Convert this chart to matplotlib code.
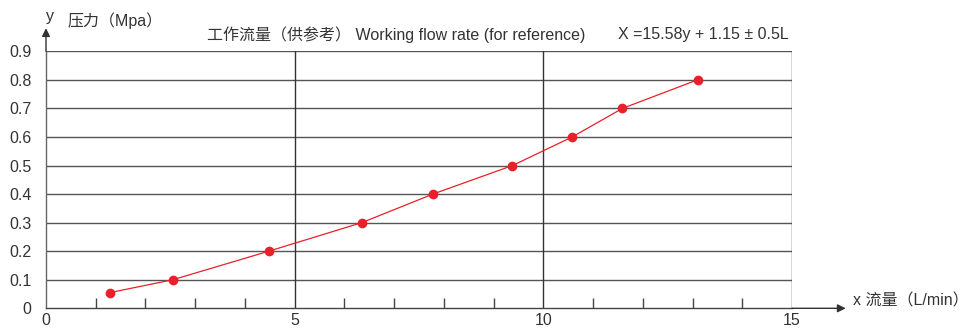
import matplotlib
matplotlib.use("Agg")
import matplotlib.pyplot as plt
from matplotlib.ticker import MultipleLocator

plt.rcParams['font.family'] = ['Liberation Sans', 'Noto Sans CJK SC', 'DejaVu Sans']

# flow (L/min) vs pressure (MPa)
flow = [1.29, 2.55, 4.48, 6.35, 7.78, 9.38, 10.58, 11.59, 13.10]
pressure = [0.055, 0.1, 0.2, 0.3, 0.4, 0.5, 0.6, 0.7, 0.8]
x_ticks = [0, 5, 10, 15]
y_ticks = [0, 0.1, 0.2, 0.3, 0.4, 0.5, 0.6, 0.7, 0.8, 0.9]
y_labels = ['0', '0.1', '0.2', '0.3', '0.4', '0.5', '0.6', '0.7', '0.8', '0.9']

W, H = 968, 329
fig = plt.figure(figsize=(W / 100, H / 100), dpi=100)
ax = fig.add_axes([46 / W, 1 - 308.3 / H, (792 - 46) / W, (308.3 - 51.3) / H])

ax.set_xlim(0, 15)
ax.set_ylim(0, 0.9)

grid_col = '#555555'
for yv in y_ticks[1:]:
    ax.axhline(yv, color=grid_col, lw=1.0, zorder=1)
for xv in x_ticks[1:]:
    ax.axvline(xv, color='#333333', lw=1.0, zorder=1)

for s in ['top', 'right']:
    ax.spines[s].set_visible(False)
ax.spines['left'].set_color('#666666')
ax.spines['bottom'].set_color('#444444')
for s in ['left', 'bottom']:
    ax.spines[s].set_linewidth(1.0)

ax.set_xticks(x_ticks)
ax.set_yticks(y_ticks)
ax.set_yticklabels(y_labels)
ax.xaxis.set_minor_locator(MultipleLocator(1))
ax.tick_params(axis='x', which='major', length=0, pad=3.5, labelsize=11.5, labelcolor='#333333')
ax.tick_params(axis='x', which='minor', direction='in', length=7, width=1.0, color='#444444')
ax.tick_params(axis='y', which='major', length=0, pad=10.5, labelsize=11.5, labelcolor='#333333')

ax.plot(flow, pressure, color='#e8202a', lw=0.9, marker='o', markersize=7,
        markeredgewidth=0, zorder=3, clip_on=False)

# axis arrows
ax.annotate('', xy=(1.072, 0), xytext=(1.0, 0), xycoords='axes fraction',
            arrowprops=dict(arrowstyle='-|>', color='#333333', lw=1.0, mutation_scale=12,
                            shrinkA=0, shrinkB=0), annotation_clip=False)
ax.annotate('', xy=(0, 1.09), xytext=(0, 1.0), xycoords='axes fraction',
            arrowprops=dict(arrowstyle='-|>', color='#333333', lw=1.0, mutation_scale=12,
                            shrinkA=0, shrinkB=0), annotation_clip=False)

txt = dict(color='#333333', fontsize=11.5)
fig.text(46 / W, 1 - 17 / H, 'y', ha='left', va='center', **txt)
fig.text(67 / W, 1 - 21 / H, '压力（Mpa）', ha='left', va='center', **txt)
fig.text(207 / W, 1 - 35 / H, '工作流量（供参考） Working flow rate (for reference)',
         ha='left', va='center', **txt)
fig.text(618 / W, 1 - 35 / H, 'X =15.58y + 1.15 ± 0.5L', ha='left', va='center', **txt)
fig.text(853 / W, 1 - 301 / H, 'x 流量（L/min）', ha='left', va='center', **txt)

fig.savefig('out.png', dpi=100)
